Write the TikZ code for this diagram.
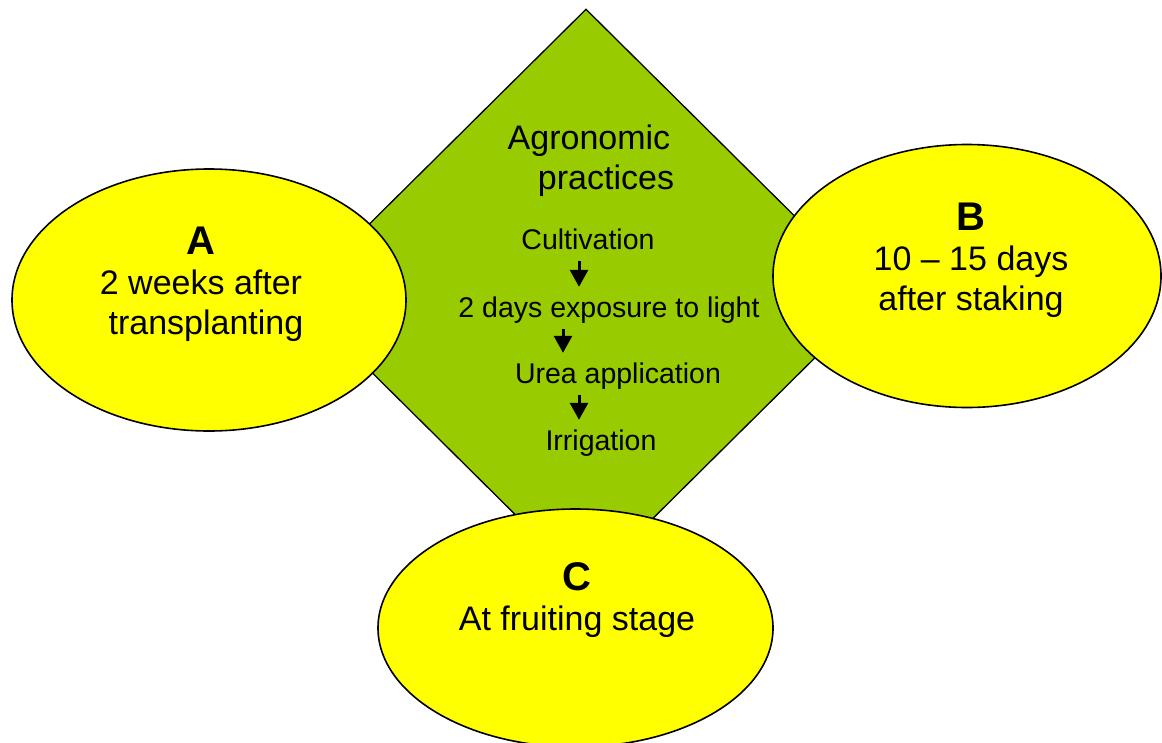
\documentclass[tikz,border=0pt]{standalone}
\usepackage{fontspec}
\setmainfont{Liberation Sans}
\usepackage{xcolor}
\usetikzlibrary{shapes.geometric, arrows.meta, positioning}

\definecolor{leafgreen}{HTML}{99CC00}
\definecolor{stageyellow}{HTML}{FFFF00}

\tikzset{
  stage/.style={draw, ellipse, fill=stageyellow, line width=1.6pt, inner sep=0pt},
  stagetext/.style={align=center, inner sep=0pt, font=\fontsize{34}{40}\selectfont},
  steptext/.style={anchor=base, inner sep=0pt, text height=21pt, text depth=6pt,
                   font=\fontsize{28.5}{34}\selectfont},
  flow/.style={-{Triangle[width=18pt,length=17pt]}, line width=3pt,
               shorten <=6pt, shorten >=9pt}
}

\begin{document}
\begin{tikzpicture}[x=1pt, y=-1pt]
    \useasboundingbox (0,0) rectangle (1162,742);

    % Practices
    \node [draw, diamond, fill=leafgreen, line width=1.3pt, inner sep=0pt,
           minimum width=581pt, minimum height=576pt] (practices) at (586,297) {};
    \node [stagetext] (agro) at (589,161) {Agronomic\\\hspace*{34pt}practices};

    % Steps
    \node [steptext] (cult) at (588,249) {Cultivation};
    \node [steptext] (expo) at (609,317) {2 days exposure to light};
    \node [steptext] (urea) at (618,383) {Urea application};
    \node [steptext] (irri) at (601,450) {Irrigation};
    \draw [flow] ([xshift=-9pt]cult.south) -- ([xshift=-9pt]cult.south |- expo.north);
    \draw [flow] ([xshift=-46pt]expo.south) -- ([xshift=-46pt]expo.south |- urea.north);
    \draw [flow] ([xshift=-39pt]urea.south) -- ([xshift=-39pt]urea.south |- irri.north);

    % Stages
    \node [stage, minimum width=394pt, minimum height=262pt] (stageA) at (209,300) {};
    \node [stagetext] (textA) at (201,284)
        {{\bfseries\fontsize{40}{40}\selectfont A}\\2 weeks after\\\hspace*{10pt}transplanting};
    \node [stage, minimum width=388pt, minimum height=263pt] (stageB) at (967,276) {};
    \node [stagetext] (textB) at (971,260)
        {{\bfseries\fontsize{40}{40}\selectfont B}\\10 -- 15 days\\after staking};
    \node [stage, minimum width=395pt, minimum height=238pt] (stageC) at (575.5,628) {};
    \node [stagetext] (textC) at (577,600)
        {{\bfseries\fontsize{40}{40}\selectfont C}\\At fruiting stage};
\end{tikzpicture}
\end{document}
